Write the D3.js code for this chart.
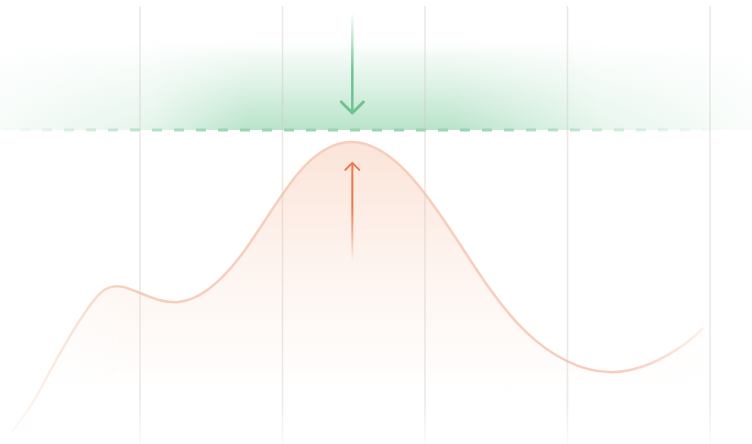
<!DOCTYPE html>
<html>
<head>
<meta charset="utf-8">
<script src="https://cdn.jsdelivr.net/npm/d3@7"></script>
<style>
  html, body { margin: 0; padding: 0; background: #fff; }
  svg { display: block; }
</style>
</head>
<body>
<div id="chart"></div>
<script>
const width = 752, height = 444;

// data (x in grid steps, y in % of target)
const steps = [0.10, 0.25, 0.42, 0.65, 0.88, 1.27, 1.70, 2.10, 2.49, 2.87, 3.24, 3.71, 4.29, 4.76, 4.95];
const load  = [2.6, 12.3, 26.5, 43.5, 49.4, 44.5, 59.0, 85.5, 96.1, 86.5, 63.5, 34.8, 21.9, 29.0, 36.1];
const gridTicks = [1, 2, 3, 4, 5];
const target = 100;
const markerAt = 2.49;
const dropArrow = [138, 105.5];   // green arrow, from -> to
const riseArrow = [57.5, 89.4];   // orange arrow, from -> to

const data = steps.map((s, i) => ({ s, v: load[i] }));

const x = d3.scaleLinear().domain([0, 5]).range([-2.5, 710]);
const y = d3.scaleLinear().domain([0, 100]).range([440, 130]);

const svg = d3.select("#chart").append("svg")
  .attr("width", width)
  .attr("height", height);

const defs = svg.append("defs");

function linGrad(id, x1, y1, x2, y2, stops) {
  const g = defs.append("linearGradient")
    .attr("id", id)
    .attr("gradientUnits", "userSpaceOnUse")
    .attr("x1", x1).attr("y1", y1).attr("x2", x2).attr("y2", y2);
  stops.forEach(s => g.append("stop")
    .attr("offset", s[0])
    .attr("stop-color", s[1])
    .attr("stop-opacity", s[2]));
  return `url(#${id})`;
}

function hMask(id, stops) {
  const grad = linGrad(id + "-g", 0, 0, width, 0, stops.map(s => [s[0], "#fff", s[1]]));
  defs.append("mask").attr("id", id)
    .attr("maskUnits", "userSpaceOnUse")
    .attr("x", 0).attr("y", 0).attr("width", width).attr("height", height)
    .append("rect")
    .attr("width", width).attr("height", height)
    .attr("fill", grad);
  return `url(#${id})`;
}

// target band + dashed line
const bandMask = hMask("band-m", [[0, 0.12], [0.2, 0.38], [0.33, 1], [0.6, 1], [0.8, 0.35], [1, 0.08]]);
const bandFill = linGrad("band-g", 0, y(target) - 90, 0, y(target),
  [[0, "#b3e1c6", 0], [0.45, "#b3e1c6", 0.4], [1, "#b3e1c6", 0.92]]);
svg.append("rect")
  .attr("x", 0).attr("width", width)
  .attr("y", y(target) - 90).attr("height", 90)
  .attr("fill", bandFill)
  .attr("mask", bandMask);

const dashMask = hMask("dash-m", [[0, 0], [0.04, 0.15], [0.3, 1], [0.62, 1], [0.93, 0.1], [0.96, 0]]);
svg.append("line")
  .attr("x1", -2).attr("x2", width)
  .attr("y1", y(target)).attr("y2", y(target))
  .attr("stroke", "#98d6b0")
  .attr("stroke-width", 3)
  .attr("stroke-dasharray", "10 12")
  .attr("mask", dashMask);

// curve
const curveMask = hMask("curve-m", [[0, 0.05], [0.03, 0.2], [0.09, 0.55], [0.17, 1], [0.82, 1], [0.88, 0.7], [0.94, 0.25], [0.97, 0]]);
const areaFill = linGrad("area-g", 0, y(96), 0, 395,
  [[0, "#f7c3aa", 0.45], [0.5, "#f7c3aa", 0.18], [1, "#f7c3aa", 0]]);
const smooth = d3.curveNatural;

const curveG = svg.append("g").attr("mask", curveMask);

curveG.append("path")
  .datum(data)
  .attr("fill", areaFill)
  .attr("d", d3.area()
    .x(d => x(d.s))
    .y0(height)
    .y1(d => y(d.v))
    .curve(smooth));

curveG.append("path")
  .datum(data)
  .attr("fill", "none")
  .attr("stroke", "#f7cebb")
  .attr("stroke-width", 2.5)
  .attr("d", d3.line()
    .x(d => x(d.s))
    .y(d => y(d.v))
    .curve(smooth));

// gridlines, on top of the curve
const gridStroke = linGrad("grid-g", 0, 6, 0, height,
  [[0, "#cfc6ba", 0.4], [0.9, "#cfc6ba", 0.4], [1, "#cfc6ba", 0.08]]);
svg.append("g")
  .selectAll("line")
  .data(gridTicks)
  .join("line")
  .attr("x1", d => x(d)).attr("x2", d => x(d))
  .attr("y1", y(140)).attr("y2", height)
  .attr("stroke", gridStroke)
  .attr("stroke-width", 1.5);

// arrows
const mx = x(markerAt);

const greenLine = linGrad("green-g", 0, y(dropArrow[0]), 0, y(dropArrow[1]),
  [[0, "#6cc48f", 0], [0.6, "#6cc48f", 1], [1, "#6cc48f", 1]]);
svg.append("line")
  .attr("x1", mx).attr("x2", mx)
  .attr("y1", y(dropArrow[0])).attr("y2", y(dropArrow[1]) - 1)
  .attr("stroke", greenLine)
  .attr("stroke-width", 2.5);
svg.append("path")
  .attr("d", `M${mx - 11},${y(dropArrow[1]) - 11}L${mx},${y(dropArrow[1])}L${mx + 11},${y(dropArrow[1]) - 11}`)
  .attr("fill", "none")
  .attr("stroke", "#6cc48f")
  .attr("stroke-width", 3)
  .attr("stroke-linecap", "round")
  .attr("stroke-linejoin", "round");

const orangeLine = linGrad("orange-g", 0, y(riseArrow[0]), 0, y(riseArrow[1]),
  [[0, "#ec784a", 0], [0.55, "#ec784a", 1], [1, "#ec784a", 1]]);
svg.append("line")
  .attr("x1", mx).attr("x2", mx)
  .attr("y1", y(riseArrow[0])).attr("y2", y(riseArrow[1]) + 1)
  .attr("stroke", orangeLine)
  .attr("stroke-width", 2);
svg.append("path")
  .attr("d", `M${mx - 7},${y(riseArrow[1]) + 7}L${mx},${y(riseArrow[1])}L${mx + 7},${y(riseArrow[1]) + 7}`)
  .attr("fill", "none")
  .attr("stroke", "#ec784a")
  .attr("stroke-width", 2)
  .attr("stroke-linecap", "round")
  .attr("stroke-linejoin", "round");
</script>
</body>
</html>
